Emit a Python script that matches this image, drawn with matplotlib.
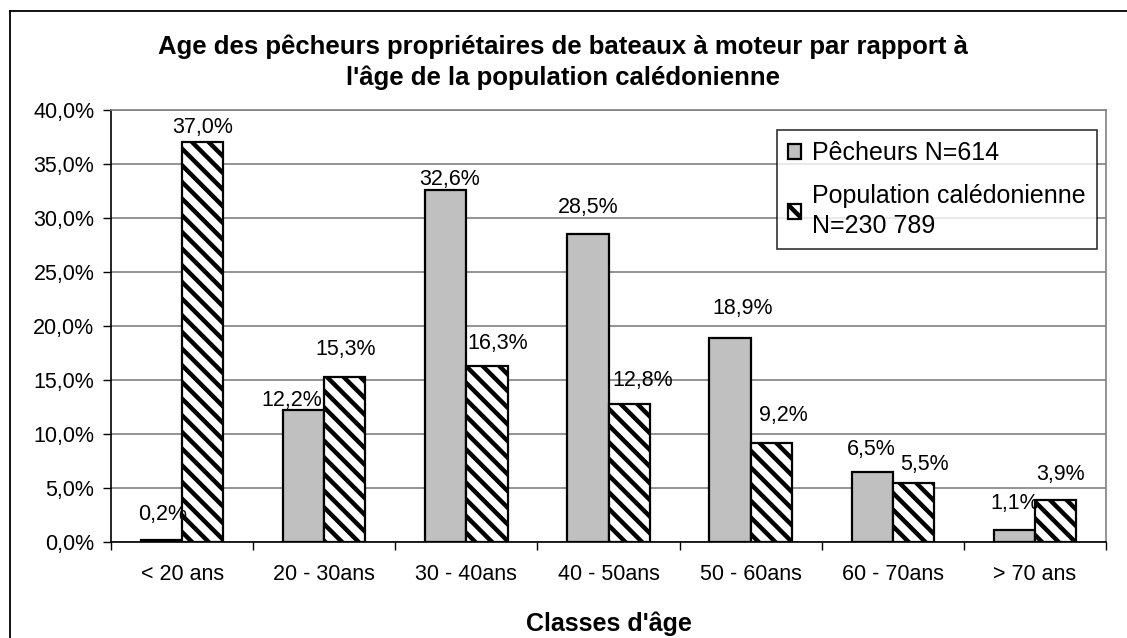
import numpy as np
import matplotlib
matplotlib.use("Agg")
import matplotlib.pyplot as plt
from matplotlib.lines import Line2D
from matplotlib.ticker import FuncFormatter

plt.rcParams['font.family'] = ['Liberation Sans', 'DejaVu Sans']
plt.rcParams['hatch.linewidth'] = 3.2

# Données
classes = ['< 20 ans', '20 - 30ans', '30 - 40ans', '40 - 50ans',
           '50 - 60ans', '60 - 70ans', '> 70 ans']
pecheurs = [0.2, 12.2, 32.6, 28.5, 18.9, 6.5, 1.1]
population = [37.0, 15.3, 16.3, 12.8, 9.2, 5.5, 3.9]
label_pech = 'Pêcheurs N=614'
label_pop = 'Population calédonienne\nN=230 789'
titre = ("Age des pêcheurs propriétaires de bateaux à moteur par rapport à\n"
         "l'âge de la population calédonienne")

# décalages des étiquettes (pixels) par rapport au haut des barres
off_pech = [(1, 25), (-12, 10), (4, 10), (0, 27), (13, 29), (-1, 22), (0, 27)]
off_pop = [(0, 15), (1, 27), (11, 22), (14, 23), (12, 27), (11, 18), (5, 25)]

fig = plt.figure(figsize=(11.27, 6.38), dpi=100)
ax = fig.add_axes([111/1127, 96/638, 995/1127, 432/638])

x = np.arange(len(classes))
w = 0.29
b1 = ax.bar(x - w/2, pecheurs, w, color='#c0c0c0', edgecolor='black',
            linewidth=1.6, label=label_pech, zorder=3)
b2 = ax.bar(x + w/2, population, w, color='white', edgecolor='black',
            hatch='\\\\', linewidth=1.6, label=label_pop, zorder=3)

def fmt(v):
    return f"{v:.1f}".replace('.', ',') + '%'

for xi, v, (dx, dy) in zip(x - w/2, pecheurs, off_pech):
    ax.annotate(fmt(v), (xi, v), xytext=(dx, dy), textcoords='offset pixels',
                ha='center', va='center', fontsize=15.5, zorder=5)
for xi, v, (dx, dy) in zip(x + w/2, population, off_pop):
    ax.annotate(fmt(v), (xi, v), xytext=(dx, dy), textcoords='offset pixels',
                ha='center', va='center', fontsize=15.5, zorder=5)

ax.set_xlim(-0.5, len(classes) - 0.5)
ax.set_ylim(0, 40)
ax.set_yticks(np.arange(0, 41, 5))
ax.yaxis.set_major_formatter(FuncFormatter(lambda v, p: fmt(v)))
ax.grid(axis='y', color='#808080', linewidth=1.2, zorder=0)

ax.set_xticks(np.arange(-0.5, len(classes), 1))
ax.set_xticklabels([])
ax.set_xticks(x, minor=True)
ax.set_xticklabels(classes, minor=True)
ax.tick_params(axis='x', which='minor', length=0, pad=16, labelsize=15.5)
ax.tick_params(axis='x', which='major', length=6, width=1, color='black')
ax.tick_params(axis='y', length=6, width=1, pad=6, labelsize=15.5)

for s in ['top', 'right']:
    ax.spines[s].set_color('#808080')
    ax.spines[s].set_linewidth(1.2)
ax.spines['left'].set_linewidth(1.2)
ax.spines['bottom'].set_linewidth(1.2)

ax.set_xlabel("Classes d'âge", fontsize=18, fontweight='bold', labelpad=19)
fig.text(0.5, 1 - 62.5/638, titre, ha='center', va='center', fontsize=18.5,
         fontweight='bold', linespacing=1.35)

leg = ax.legend(loc='upper left', bbox_to_anchor=(777/1127, 1 - 130/638),
                bbox_transform=fig.transFigure, fontsize=18, frameon=True,
                fancybox=False, handlelength=0.5, handleheight=0.5,
                handletextpad=0.45, borderpad=0.45, labelspacing=0.75,
                borderaxespad=0)
leg.get_frame().set_edgecolor('black')
leg.get_frame().set_linewidth(1.2)
for t in leg.get_texts():
    t.set_linespacing(1.3)

# cadre extérieur
fig.add_artist(Line2D([10/1127, 10/1127], [0, 1 - 11/638], color='black',
                      linewidth=1.3, transform=fig.transFigure))
fig.add_artist(Line2D([10/1127, 1], [1 - 11/638, 1 - 11/638], color='black',
                      linewidth=1.3, transform=fig.transFigure))

fig.savefig('out.png', dpi=100)
